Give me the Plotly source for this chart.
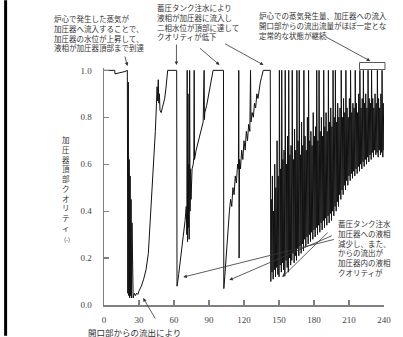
import plotly.graph_objects as go

# ---------------- data ----------------
# phase 1: initial period, drop, first refill
p1_t = [0, 9.2, 9.4, 14, 18, 20, 20.4, 20.8, 21.2, 21.6, 22.0, 22.4, 22.8, 23.2, 23.6, 24.0,
        24.4, 25, 26, 27, 28, 29, 30, 32, 34, 36, 38, 39, 40, 41, 42, 43, 44, 45, 45.5, 46,
        46.5, 47, 47.5, 48, 49, 50, 51, 52, 53, 54, 54.6, 62.3]
p1_q = [1.0, 1.0, 0.985, 0.99, 0.995, 1.0, 0.05, 0.95, 0.04, 0.62, 0.03, 0.55, 0.04, 0.45, 0.03, 0.35,
        0.04, 0.03, 0.05, 0.04, 0.05, 0.045, 0.06, 0.08, 0.11, 0.15, 0.22, 0.3, 0.4, 0.48, 0.56, 0.65,
        0.74, 0.86, 0.93, 0.87, 0.96, 0.86, 0.9, 0.83, 0.82, 0.84, 0.86, 0.88, 0.92, 0.97, 1.0, 1.0]

# phase 2
p2_t = [62.6, 63.2, 64, 65, 66.5, 68, 69.5, 70.5, 71.0, 71.3, 71.6, 72.0, 72.3, 72.7, 73.0, 73.4,
        73.8, 74.2, 74.6, 75.5, 76.5, 77.0, 77.3, 77.6, 79, 81, 83, 85, 85.8, 86.1, 86.4, 88, 90,
        92, 93.5, 102.4]
p2_q = [0.08, 0.1, 0.13, 0.17, 0.23, 0.3, 0.36, 0.42, 0.3, 1.0, 0.27, 0.9, 0.33, 0.6, 0.28, 1.0,
        0.4, 0.58, 0.45, 0.58, 0.6, 0.63, 1.0, 0.62, 0.66, 0.7, 0.75, 0.78, 1.0, 0.79, 0.82, 0.85, 0.9,
        0.95, 1.0, 1.0]

# phase 3
p3_t = [102.7, 103.5, 104.5, 105.5, 106.5, 107.5, 108.5, 109.5, 110.5, 111.5, 112.5, 113.5, 114.5,
        115.2, 115.5, 115.8, 116.2, 117, 118, 119, 120, 121, 122, 123, 124, 125, 125.6, 126, 127,
        128, 129, 130, 131, 132, 133, 134, 135, 136.5, 142.5]
p3_q = [0.07, 0.12, 0.2, 0.28, 0.34, 0.4, 0.45, 0.42, 0.5, 0.47, 0.55, 0.52, 0.6,
        0.58, 1.0, 0.2, 0.62, 0.58, 0.66, 0.62, 0.7, 0.66, 0.74, 0.7, 0.77, 0.74, 1.0, 0.78, 0.82,
        0.8, 0.86, 0.84, 0.9, 0.88, 0.93, 0.95, 0.97, 1.0, 1.0]

# phase 4: oscillating period, a low, a high and a middle reading per second from t = 143 s
chaos_start = 143
chaos_lo = [0.10, 0.14, 0.11, 0.15, 0.12, 0.16, 0.13, 0.12, 0.17, 0.14,
            0.18, 0.15, 0.13, 0.19, 0.16, 0.14, 0.20, 0.17, 0.19, 0.22,
            0.18, 0.21, 0.19, 0.24, 0.21, 0.25, 0.22, 0.26, 0.23, 0.28,
            0.25, 0.29, 0.26, 0.30, 0.27, 0.31, 0.28, 0.32, 0.29, 0.33,
            0.30, 0.34, 0.31, 0.35, 0.32, 0.36, 0.33, 0.37, 0.34, 0.38,
            0.35, 0.39, 0.36, 0.40, 0.38, 0.42, 0.40, 0.44, 0.42, 0.47,
            0.45, 0.49, 0.47, 0.51, 0.49, 0.53, 0.51, 0.55, 0.53, 0.56,
            0.54, 0.57, 0.55, 0.58, 0.56, 0.59, 0.57, 0.60, 0.58, 0.61,
            0.59, 0.62, 0.60, 0.63, 0.61, 0.64, 0.62, 0.65, 0.63, 0.66,
            0.64, 0.65, 0.63, 0.66, 0.64, 0.65, 0.63, 0.66]
chaos_hi = [0.45, 0.55, 0.40, 0.60, 0.50, 0.70, 0.55, 1.0, 0.58, 1.0,
            0.62, 0.66, 1.0, 0.60, 0.72, 1.0, 0.64, 0.68, 1.0, 0.62,
            0.75, 0.66, 1.0, 0.70, 1.0, 0.64, 0.78, 0.68, 1.0, 0.72,
            0.66, 0.80, 1.0, 0.70, 0.74, 0.68, 0.82, 0.72, 0.76, 1.0,
            0.70, 1.0, 0.74, 0.80, 0.72, 1.0, 0.76, 0.82, 0.74, 1.0,
            0.78, 0.84, 0.76, 1.0, 0.80, 1.0, 0.78, 0.86, 0.80, 0.84,
            1.0, 0.80, 0.88, 0.82, 1.0, 0.84, 0.80, 0.88, 1.0, 0.82,
            0.86, 0.84, 1.0, 0.86, 0.82, 0.90, 1.0, 0.84, 0.88, 1.0,
            0.86, 0.90, 0.84, 1.0, 0.88, 0.86, 1.0, 0.88, 0.84, 0.90,
            0.86, 1.0, 0.88, 0.84, 0.90, 1.0, 0.86, 0.80]
chaos_mid = [0.30, 0.28, 0.33, 0.30, 0.35, 0.32, 0.34, 0.36, 0.33, 0.38,
             0.35, 0.40, 0.37, 0.36, 0.41, 0.38, 0.42, 0.40, 0.44, 0.41,
             0.45, 0.42, 0.46, 0.44, 0.48, 0.45, 0.49, 0.47, 0.50, 0.48,
             0.52, 0.49, 0.53, 0.50, 0.54, 0.52, 0.55, 0.53, 0.56, 0.54,
             0.57, 0.55, 0.58, 0.56, 0.59, 0.57, 0.60, 0.58, 0.61, 0.59,
             0.62, 0.60, 0.63, 0.61, 0.64, 0.62, 0.65, 0.63, 0.66, 0.65,
             0.68, 0.66, 0.69, 0.67, 0.70, 0.68, 0.71, 0.69, 0.72, 0.70,
             0.72, 0.71, 0.73, 0.72, 0.74, 0.72, 0.75, 0.73, 0.76, 0.74,
             0.76, 0.75, 0.77, 0.75, 0.78, 0.76, 0.78, 0.77, 0.79, 0.77,
             0.78, 0.79, 0.77, 0.78, 0.79, 0.78, 0.77, 0.76]

x_ticks = [0, 30, 60, 90, 120, 150, 180, 210, 240]
y_ticks = [0.0, 0.2, 0.4, 0.6, 0.8, 1.0]
y_tick_text = ["0.0", "0.2", "0.4", "0.6", "0.8", "1.0"]

ylabel_chars = "加圧器頂部クオリティ"
note1 = ["炉心で発生した蒸気が", "加圧器へ流入することで、", "加圧器の水位が上昇して、", "液相が加圧器頂部まで到達"]
note2 = ["蓄圧タンク注水により", "液相が加圧器に流入し", "二相水位が頂部に達して", "クオリティが低下"]
note3 = ["炉心での蒸気発生量、加圧器への流入", "開口部からの流出流量がほぼ一定とな", "定常的な状態が継続"]
note4 = ["蓄圧タンク注水", "加圧器への液相", "減少し、また、", "からの流出が", "加圧器内の液相", "クオリティが"]
note5 = "開口部からの流出により"

# ---------------- build series ----------------
chaos_t, chaos_q = [], []
for i, (lo, hi, mid) in enumerate(zip(chaos_lo, chaos_hi, chaos_mid)):
    chaos_t += [chaos_start + i, chaos_start + i + 0.33, chaos_start + i + 0.67]
    chaos_q += [lo, hi, mid]

t_all = p1_t + p2_t + p3_t + chaos_t
q_all = p1_q + p2_q + p3_q + chaos_q

# ---------------- layout helpers ----------------
W, H = 403, 337
ML, MR, MT, MB = 104, 13, 68, 31
PW = W - ML - MR
PH = H - MT - MB


def X(px):
    return (px - ML) / PW


def Y(py):
    return (H - MB - py) / PH


CJK = "Noto Sans CJK JP"
TXT = "#333"
SERIF = "Liberation Serif"

fig = go.Figure()
fig.add_trace(go.Scatter(x=t_all, y=q_all, mode="lines",
                         line=dict(color="#111", width=1), showlegend=False,
                         hoverinfo="skip"))


def add_block(lines, x_px, top_px, size):
    fig.add_annotation(xref="paper", yref="paper", x=X(x_px), y=Y(top_px),
                       text="<br>".join(lines), showarrow=False, align="left",
                       xanchor="left", yanchor="top", borderpad=0,
                       font=dict(family=CJK, size=size, color=TXT))


def add_arrow(head, tail):
    fig.add_annotation(xref="paper", yref="paper", x=X(head[0]), y=Y(head[1]),
                       ax=tail[0] - head[0], ay=tail[1] - head[1],
                       axref="pixel", ayref="pixel", text="", showarrow=True,
                       arrowhead=2, arrowsize=0.9, arrowwidth=0.8, arrowcolor="#333",
                       standoff=0, startstandoff=0)


add_block(note1, 52, 12, 7.5)
add_block(note2, 157, 0.5, 7.5)
add_block(note3, 261, 9, 7.5)
add_block(note4, 342, 218, 7.5)
add_block([note5], 87, 326, 8.5)

add_arrow((128, 66), (125, 55))
add_arrow((178, 65), (178, 43))
add_arrow((222, 65), (201, 47))
add_arrow((267, 65), (227, 43))
add_arrow((376, 61), (330, 36))
add_arrow((144, 299), (157, 321))
add_arrow((185, 278), (337, 240))
add_arrow((232, 281), (336, 236))
add_arrow((286, 278), (333, 232))

# y-axis title, stacked vertically
fig.add_annotation(xref="paper", yref="paper", x=X(65), y=Y(184),
                   text="<br>".join(list(ylabel_chars)), showarrow=False,
                   xanchor="center", yanchor="middle", borderpad=0,
                   font=dict(family=CJK, size=7.5, color=TXT))
fig.add_annotation(xref="paper", yref="paper", x=X(66), y=Y(240), text="(-)",
                   showarrow=False, xanchor="center", yanchor="middle",
                   font=dict(family=CJK, size=6, color=TXT))

# box and left border
fig.add_shape(type="rect", xref="paper", yref="paper", x0=X(365), x1=X(391),
              y0=Y(69.5), y1=Y(62.5), line=dict(color="#555", width=1))
fig.add_shape(type="line", xref="paper", yref="paper", x0=X(3.5), x1=X(3.5),
              y0=Y(337), y1=Y(0), line=dict(color="#000", width=3))

axis_common = dict(showgrid=False, zeroline=False, showline=True, linecolor="#808080",
                   linewidth=1.5, ticks="inside", ticklen=5, tickcolor="#808080",
                   tickwidth=1.2, tickfont=dict(family=SERIF, size=9, color="#444"))

fig.update_layout(
    width=W, height=H,
    margin=dict(l=ML, r=MR, t=MT, b=MB),
    paper_bgcolor="white", plot_bgcolor="white",
    xaxis=dict(range=[0, 240], tickvals=x_ticks, ticklabelstandoff=6, **axis_common),
    yaxis=dict(range=[0, 1.01], tickvals=y_ticks, ticktext=y_tick_text,
               ticklabelstandoff=9, **axis_common),
)

fig.write_html("out.html", config={"displayModeBar": False, "staticPlot": True},
               post_script="document.body.style.margin='0';document.body.style.padding='0';")
